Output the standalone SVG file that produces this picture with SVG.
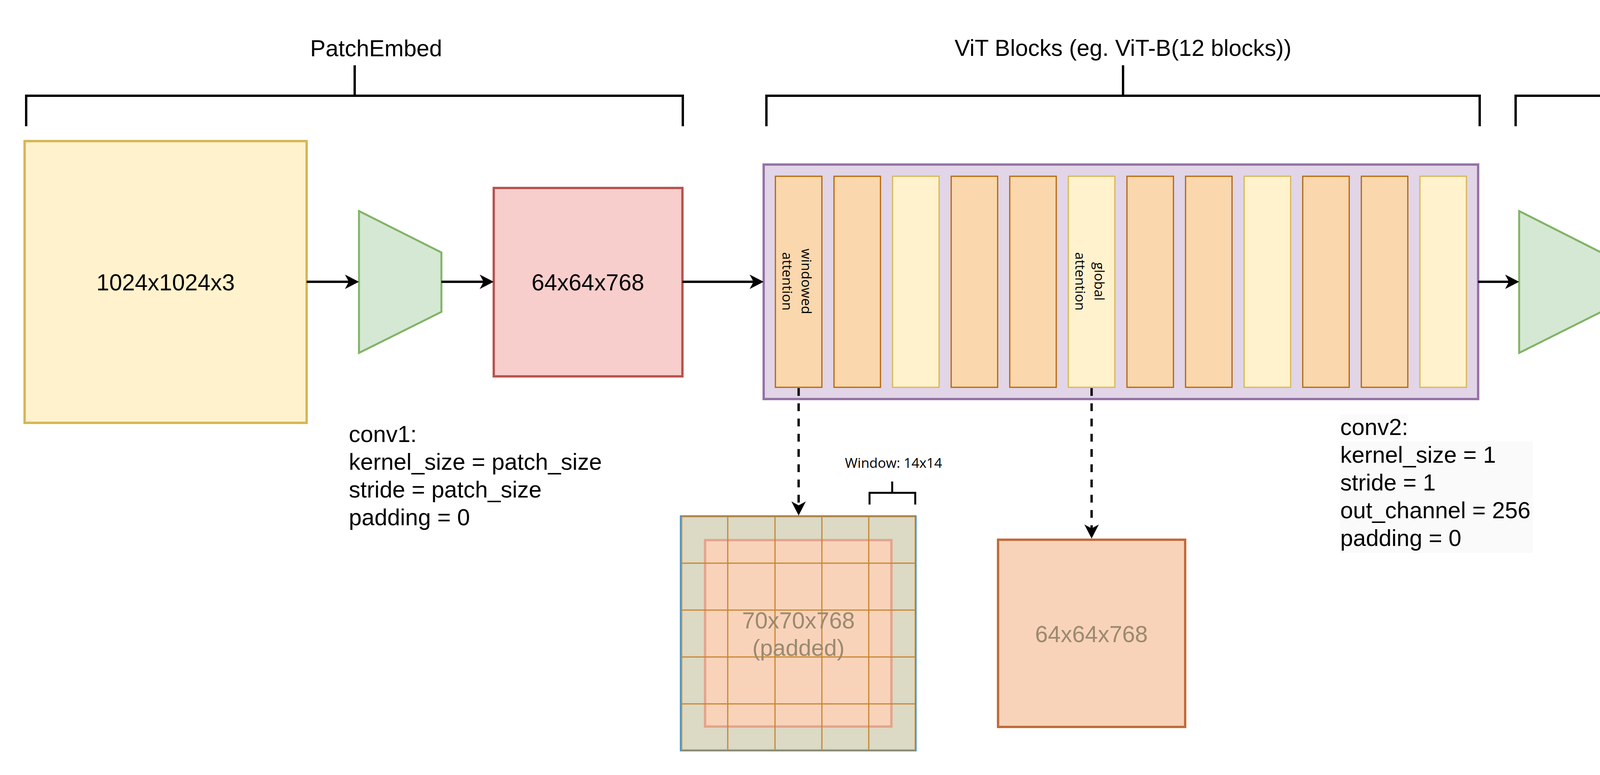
<svg xmlns="http://www.w3.org/2000/svg" width="5436" height="1983" viewBox="0 0 5436 1983">
<defs>
<style>
.big{font-family:"Liberation Sans",Arial,sans-serif;font-size:59px;fill:#000}
.mid{text-anchor:middle}
.small{font-family:"Open Sans","Liberation Sans",sans-serif;font-size:35px;fill:#000}
.muted{fill:#9a8a70}
.brk{fill:none;stroke:#000;stroke-width:6}
.conn{fill:none;stroke:#000;stroke-width:6}
.dash{stroke-dasharray:20 19}
.blkO{fill:#fad7ac;stroke:#b46504;stroke-width:3}
.blkY{fill:#fff2cc;stroke:#d6b656;stroke-width:3}
.trap{fill:#d5e8d4;stroke:#82b366;stroke-width:5}
.ln{fill:#f5f5f5;stroke:#666;stroke-width:3}
.grid{stroke:#c8862f;stroke-width:3;fill:none}
.bg{fill:#fafafa}
</style>
<marker id="ah" markerUnits="userSpaceOnUse" viewBox="0 0 36 37" markerWidth="36" markerHeight="37" refX="10" refY="18.5" orient="auto">
<path d="M0,0 L36,18.5 L0,37 L10,18.5 Z" fill="#000"/>
</marker>
</defs>
<rect width="5436" height="1983" fill="#fff"/>

<g id="bracket-patchembed">
<path class="brk" d="M67,323 V245 H1748 V323 M908,245 V167"/>
<text class="big mid" x="963" y="144">PatchEmbed</text>
</g>
<g id="bracket-vit">
<path class="brk" d="M1962,323 V245 H3788 V323 M2875,245 V167"/>
<text class="big mid" x="2875" y="143">ViT Blocks (eg. ViT-B(12 blocks))</text>
</g>
<g id="bracket-neck">
<path class="brk" d="M3880,323 V245 H4767 V323 M4324,245 V167"/>
<text class="big mid" x="4324" y="144">neck</text>
</g>

<g id="input">
<rect x="63" y="361" width="722" height="721" fill="#fff2cc" stroke="#d6b656" stroke-width="6"/>
<text class="big mid" x="424" y="743">1024x1024x3</text>
</g>
<g id="conv1-shape">
<polygon class="trap" points="919,540 1130,646 1130,798 919,903"/>
</g>
<g id="patch-out">
<rect x="1264" y="481" width="483" height="482" fill="#f8cecc" stroke="#b85450" stroke-width="6"/>
<text class="big mid" x="1505" y="743">64x64x768</text>
</g>

<g id="vit-blocks">
<rect x="1955" y="421" width="1829" height="600" fill="#e1d5e7" stroke="#9673a6" stroke-width="6"/>
<rect class="blkO" x="1985" y="451" width="119" height="540"/>
<rect class="blkO" x="2135" y="451" width="119" height="540"/>
<rect class="blkY" x="2285" y="451" width="119" height="540"/>
<rect class="blkO" x="2435" y="451" width="119" height="540"/>
<rect class="blkO" x="2585" y="451" width="119" height="540"/>
<rect class="blkY" x="2735" y="451" width="119" height="540"/>
<rect class="blkO" x="2885" y="451" width="119" height="540"/>
<rect class="blkO" x="3035" y="451" width="119" height="540"/>
<rect class="blkY" x="3185" y="451" width="119" height="540"/>
<rect class="blkO" x="3335" y="451" width="119" height="540"/>
<rect class="blkO" x="3485" y="451" width="119" height="540"/>
<rect class="blkY" x="3635" y="451" width="119" height="540"/>
<text class="small mid" transform="translate(2044.5,720) rotate(90)"><tspan x="0" y="-7.5">windowed</tspan><tspan x="0" y="41.5">attention</tspan></text>
<text class="small mid" transform="translate(2794.5,720) rotate(90)"><tspan x="0" y="-7.5">global</tspan><tspan x="0" y="41.5">attention</tspan></text>
</g>

<g id="conv2-shape">
<polygon class="trap" points="3889,540 4099,646 4099,798 3889,903"/>
</g>
<g id="layernorm1">
<rect class="ln" x="4174" y="451" width="121" height="541"/>
<text class="small mid" transform="translate(4234.5,721) rotate(90)" x="0" y="14">layer-norm</text>
</g>
<g id="conv3-shape">
<polygon class="trap" points="4369,540 4580,646 4580,798 4369,903"/>
</g>
<g id="layernorm2">
<rect class="ln" x="4655" y="451" width="120" height="541"/>
<text class="small mid" transform="translate(4715,721) rotate(90)" x="0" y="14">layer-norm</text>
</g>
<g id="output">
<rect x="4894" y="481" width="481" height="482" fill="#dae8fc" stroke="#6c8ebf" stroke-width="6"/>
<text class="big mid" x="5134.5" y="743">64x64x256</text>
</g>

<g id="conv1-label">
<text class="big" x="893" y="1131">conv1:</text>
<text class="big" x="893" y="1202">kernel_size = patch_size</text>
<text class="big" x="893" y="1273">stride = patch_size</text>
<text class="big" x="893" y="1344">padding = 0</text>
</g>
<g id="conv2-label">
<rect class="bg" x="3431" y="1060" width="174" height="64"/>
<rect class="bg" x="3431" y="1129" width="493" height="286"/>
<text class="big" x="3431" y="1113">conv2:</text>
<text class="big" x="3431" y="1184">kernel_size = 1</text>
<text class="big" x="3431" y="1255">stride = 1</text>
<text class="big" x="3431" y="1326">out_channel = 256</text>
<text class="big" x="3431" y="1397">padding = 0</text>
</g>
<g id="conv3-label">
<rect class="bg" x="4182" y="1071" width="174" height="62"/>
<rect class="bg" x="4182" y="1138" width="491" height="274"/>
<text class="big" x="4182" y="1122">conv3:</text>
<text class="big" x="4182" y="1191">kernel_size = 3</text>
<text class="big" x="4182" y="1260">stride = 1</text>
<text class="big" x="4182" y="1328">out_channel = 256</text>
<text class="big" x="4182" y="1397">padding = 1</text>
</g>

<g id="padded-map">
<rect x="1742" y="1320" width="603" height="601" fill="#dcd9c4" stroke="#3d8fc6" stroke-width="3"/>
<rect x="1805" y="1382" width="477" height="477" fill="#f8d3ba" stroke="#e3a58b" stroke-width="6"/>
<rect class="grid" x="1745" y="1322" width="598" height="597"/>
<path class="grid" d="M1863,1322 V1919 M1984,1322 V1919 M2104,1322 V1919 M2224,1322 V1919 M1745,1441 H2343 M1745,1561 H2343 M1745,1681 H2343 M1745,1801 H2343"/>
<text class="big mid muted" x="2044" y="1608">70x70x768</text>
<text class="big mid muted" x="2044" y="1678">(padded)</text>
</g>
<g id="window-label">
<path fill="none" stroke="#000" stroke-width="5" d="M2226,1291 V1261 H2343 V1291 M2284,1261 V1232"/>
<text class="small" x="2163" y="1197">Window: 14x14</text>
</g>
<g id="global-map">
<rect x="2555" y="1381" width="479" height="479" fill="#f8d3b9" stroke="#c26b3a" stroke-width="6"/>
<text class="big mid muted" x="2794" y="1643">64x64x768</text>
</g>

<g id="connectors">
<line class="conn" x1="785" y1="721" x2="893" y2="721" marker-end="url(#ah)"/>
<line class="conn" x1="1130" y1="721" x2="1238" y2="721" marker-end="url(#ah)"/>
<line class="conn" x1="1747" y1="721" x2="1929" y2="721" marker-end="url(#ah)"/>
<line class="conn" x1="3784" y1="721" x2="3863" y2="721" marker-end="url(#ah)"/>
<line class="conn" x1="4099" y1="721" x2="4148" y2="721" marker-end="url(#ah)"/>
<line class="conn" x1="4295" y1="721" x2="4343" y2="721" marker-end="url(#ah)"/>
<line class="conn" x1="4580" y1="721" x2="4629" y2="721" marker-end="url(#ah)"/>
<line class="conn" x1="4775" y1="721" x2="4868" y2="721" marker-end="url(#ah)"/>
<line class="conn dash" x1="2044.5" y1="993" x2="2044.5" y2="1293" marker-end="url(#ah)"/>
<line class="conn dash" x1="2794.5" y1="993" x2="2794.5" y2="1352" marker-end="url(#ah)"/>
</g>
</svg>
